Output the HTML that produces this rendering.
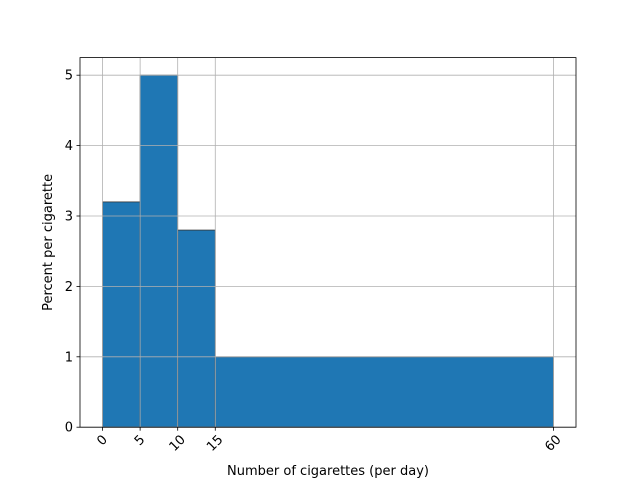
<!DOCTYPE html>
<html><head><meta charset="utf-8"><style>body{margin:0;background:#fff}svg{display:block;font-family:"DejaVu Sans","Liberation Sans",sans-serif}</style></head>
<body>
<svg id="chart" width="640" height="480"></svg>
<script>
const binEdges=[0,5,10,15,60];
const percents=[3.2,5,2.8,1];
const xTicks=[0,5,10,15,60];
const yTicks=[0,1,2,3,4,5];
const L=80,R=576,T=57.6,B=427.2,xmin=-3,xmax=63,ymin=0,ymax=5.25;
const sx=v=>L+(v-xmin)/(xmax-xmin)*(R-L);
const sy=v=>B-(v-ymin)/(ymax-ymin)*(B-T);
const svg=document.getElementById('chart');const NS='http://www.w3.org/2000/svg';
function mk(t,a,p){const e=document.createElementNS(NS,t);for(const k in a)e.setAttribute(k,a[k]);(p||svg).appendChild(e);return e;}
percents.forEach((p,i)=>{const r=mk('rect',{x:sx(binEdges[i]),y:sy(p),width:sx(binEdges[i+1])-sx(binEdges[i]),height:sy(0)-sy(p),fill:'#1f77b4',stroke:'#333','stroke-width':0.8});

});
const grid=mk('g',{});


xTicks.forEach(v=>mk('line',{x1:sx(v),x2:sx(v),y1:T,y2:B,stroke:'#b0b0b0','stroke-width':0.8},grid));
yTicks.forEach(v=>mk('line',{x1:L,x2:R,y1:sy(v),y2:sy(v),stroke:'#b0b0b0','stroke-width':0.8},grid));
const ax=mk('rect',{x:L,y:T,width:R-L,height:B-T,fill:'none',stroke:'#000','stroke-width':0.8});


xTicks.forEach(v=>{const x=sx(v);mk('line',{x1:x,x2:x,y1:B,y2:B+3.5,stroke:'#000','stroke-width':0.8});
const s=String(v);const box=(s.length*8.3+10)*0.707;const cy=B+7+box/2;
const t=mk('text',{x:x,y:cy,'font-size':13,'text-anchor':'middle','dominant-baseline':'central',transform:`rotate(-45 ${x} ${cy})`});t.textContent=s;

});
yTicks.forEach(v=>{const y=sy(v);mk('line',{x1:L,x2:L-3.5,y1:y,y2:y,stroke:'#000','stroke-width':0.8});
const t=mk('text',{x:L-7,y:y+4.5,'font-size':13,'text-anchor':'end'});t.textContent=v;

});
const xt=mk('text',{x:(L+R)/2,y:475,'font-size':13,'text-anchor':'middle'});xt.textContent='Number of cigarettes (per day)';


const yt=mk('text',{x:52,y:(T+B)/2,'font-size':13,'text-anchor':'middle',transform:`rotate(-90 52 ${(T+B)/2})`});yt.textContent='Percent per cigarette';


</script>
</body></html>
